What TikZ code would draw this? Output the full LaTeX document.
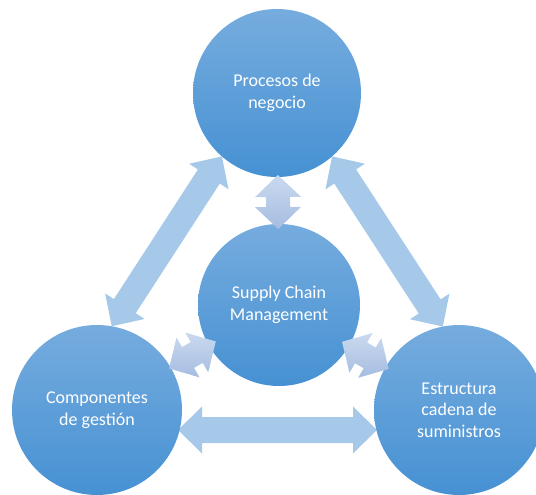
\documentclass[tikz,border=0pt]{standalone}
\usepackage{fontspec}
\setmainfont{Carlito}
\usetikzlibrary{calc}
\definecolor{ctop}{RGB}{118,172,222}
\definecolor{cbot}{RGB}{70,145,211}
\definecolor{arrcol}{RGB}{166,201,234}
\definecolor{satop}{RGB}{202,217,239}
\definecolor{sabot}{RGB}{166,189,224}
% #1 prefix, #2 style, #3 tip A, #4 tip B, #5 half shaft, #6 half head, #7 head length
\newcommand{\blockarrow}[7]{%
  \coordinate (#1h1) at ($(#3)!#7!(#4)$);
  \coordinate (#1h2) at ($(#4)!#7!(#3)$);
  \path[#2] (#3) -- ($(#1h1)!#6!90:(#4)$) -- ($(#1h1)!#5!90:(#4)$)
    -- ($(#1h2)!#5!-90:(#3)$) -- ($(#1h2)!#6!-90:(#3)$) -- (#4)
    -- ($(#1h2)!#6!90:(#3)$) -- ($(#1h2)!#5!90:(#3)$)
    -- ($(#1h1)!#5!-90:(#4)$) -- ($(#1h1)!#6!-90:(#4)$) -- cycle;
}
\begin{document}
\begin{tikzpicture}[x=1pt,y=-1pt,
  bubble/.style={circle, inner sep=0pt, outer sep=0pt, top color=ctop, bottom color=cbot,
    draw=none, text=white, align=center, font=\fontsize{18}{21.5}\selectfont},
  bigarrow/.style={fill=arrcol},
  smallarrow/.style={top color=satop, bottom color=sabot}]
\useasboundingbox (0,0) rectangle (536,495);
% circles (positions only, drawn later)
\path (277,93) coordinate (ptop);
\path (279,305) coordinate (pscm);
\path (97,410) coordinate (pleft);
\path (459,410) coordinate (pright);
\path[draw=none] (ptop) circle (84pt) node[circle, minimum size=168pt, inner sep=0pt, outer sep=0pt] (top) {};
\path[draw=none] (pscm) circle (81pt) node[circle, minimum size=162pt, inner sep=0pt, outer sep=0pt] (scm) {};
\path[draw=none] (pleft) circle (85pt) node[circle, minimum size=170pt, inner sep=0pt, outer sep=0pt] (left) {};
\path[draw=none] (pright) circle (85pt) node[circle, minimum size=170pt, inner sep=0pt, outer sep=0pt] (right) {};
% big arrows
\coordinate (hl) at (178,430);
\coordinate (hr) at (377,430);
\blockarrow{ba}{bigarrow}{hl}{hr}{13pt}{23.5pt}{24pt}
\blockarrow{bb}{bigarrow}{left.80}{top.229.6}{13pt}{23.5pt}{24pt}
\blockarrow{bc}{bigarrow}{right.101}{top.311.5}{13pt}{23.5pt}{24pt}
% circles
\node[bubble, minimum size=168pt] (ctop) at (ptop) {Procesos de\\negocio};
\node[bubble, minimum size=162pt] (cscm) at (pscm) {Supply Chain\\Management};
\node[bubble, minimum size=170pt] (cleft) at (pleft) {Componentes\\de gestión};
\node[bubble, minimum size=170pt] (cright) at (pright) {Estructura\\cadena de\\suministros};
% small arrows
\coordinate (sa1) at ($(pscm)!76pt!(ptop)$);
\coordinate (sa2) at ($(pscm)!130pt!(ptop)$);
\coordinate (sb1) at ($(pscm)!73pt!(pleft)$);
\coordinate (sb2) at ($(pscm)!127pt!(pleft)$);
\coordinate (sc1) at ($(pscm)!73pt!(pright)$);
\coordinate (sc2) at ($(pscm)!127pt!(pright)$);
\blockarrow{sa}{smallarrow}{sa1}{sa2}{12pt}{23pt}{22pt}
\blockarrow{sb}{smallarrow}{sb1}{sb2}{12pt}{23pt}{22pt}
\blockarrow{sc}{smallarrow}{sc1}{sc2}{12pt}{23pt}{22pt}
\end{tikzpicture}
\end{document}
